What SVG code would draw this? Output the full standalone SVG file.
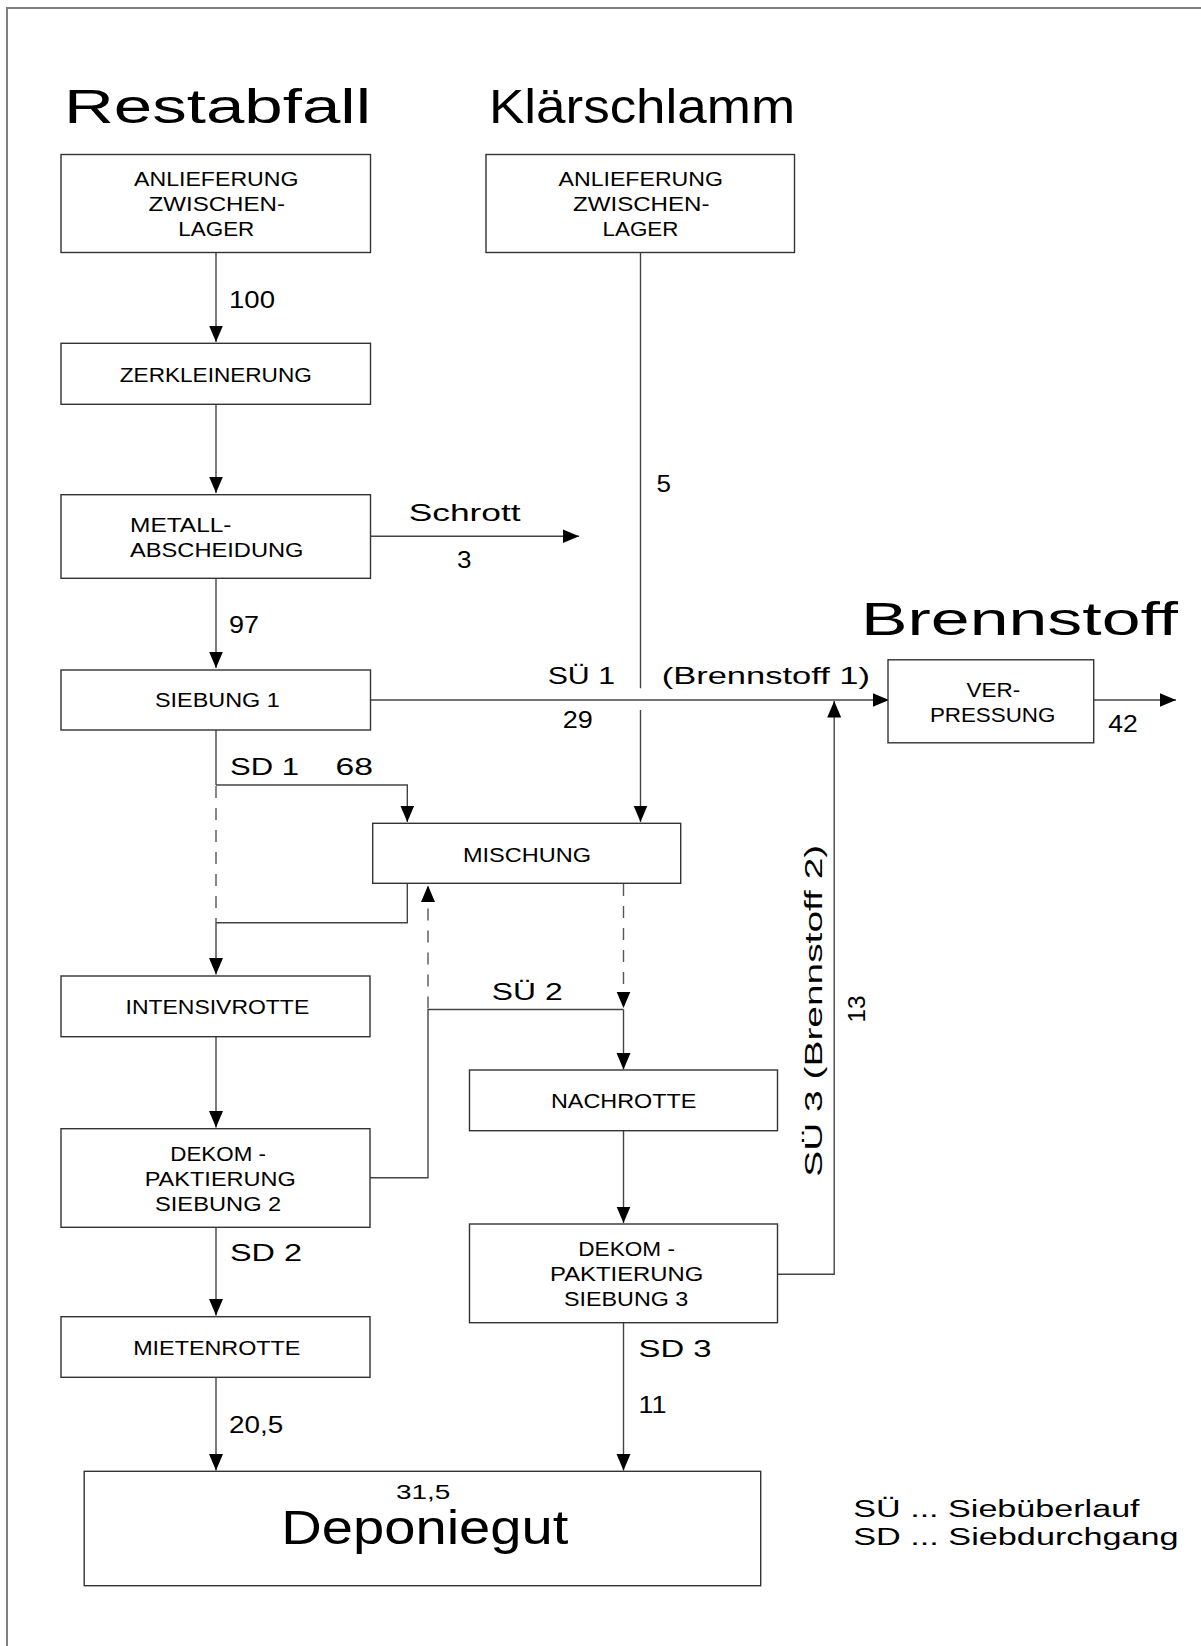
<svg xmlns="http://www.w3.org/2000/svg" width="1201" height="1646" viewBox="0 0 1201 1646">
<style>
  .box{fill:#fff;stroke:#333;stroke-width:1.4}
  .ln{fill:none;stroke:#444;stroke-width:1.4}
  .dash{fill:none;stroke:#555;stroke-width:1.4;stroke-dasharray:12 10}
  .arr{marker-end:url(#ah)}
  text{font-family:"Liberation Sans",Arial,sans-serif;fill:#000}
  .h{font-size:48px}
  .b{font-size:19.5px}
  .d{font-size:21px}
  .f{font-size:24px}
  .lg{font-size:23px}
</style>
<defs>
  <marker id="ah" markerUnits="userSpaceOnUse" markerWidth="18" markerHeight="16" refX="16.5" refY="7" orient="auto">
    <path d="M0,0 L16.5,7 L0,14 Z" fill="#000"/>
  </marker>
</defs>
<rect x="0" y="0" width="1201" height="1646" fill="#fff"/>
<path d="M7,1646 L7,8 L1201,8" fill="none" stroke="#808080" stroke-width="2"/>

<g id="headings">
  <text class="h" x="64" y="123" textLength="307" lengthAdjust="spacingAndGlyphs">Restabfall</text>
  <text class="h" x="489" y="123" textLength="306" lengthAdjust="spacingAndGlyphs">Klärschlamm</text>
  <text x="861" y="635" textLength="317" lengthAdjust="spacingAndGlyphs" style="font-size:46px">Brennstoff</text>
</g>

<g id="connectors">
  <line class="ln arr" x1="216" y1="252.5" x2="216" y2="342"/>
  <line class="ln arr" x1="216" y1="404.5" x2="216" y2="493"/>
  <line class="ln arr" x1="370.5" y1="536.3" x2="579" y2="536.3"/>
  <line class="ln arr" x1="216" y1="578.5" x2="216" y2="668"/>
  <line class="ln arr" x1="370.5" y1="700" x2="889" y2="700"/>
  <line class="ln" x1="640.5" y1="252.5" x2="640.5" y2="688.3"/>
  <line class="ln arr" x1="640.5" y1="710" x2="640.5" y2="822"/>
  <polyline class="ln arr" points="777.5,1274.3 834.2,1274.3 834.2,701"/>
  <line class="ln arr" x1="1093.7" y1="700" x2="1176" y2="700"/>
  <line class="ln" x1="216" y1="730" x2="216" y2="785"/>
  <polyline class="ln arr" points="216,785 407.3,785 407.3,822"/>
  <line class="dash" x1="216" y1="786" x2="216" y2="922"/>
  <polyline class="ln arr" points="407.3,883.3 407.3,922.7 216,922.7 216,974.5"/>
  <line class="dash arr" x1="623.5" y1="884" x2="623.5" y2="1008"/>
  <polyline class="ln" points="370,1177.7 428,1177.7 428,1009.5 623.5,1009.5"/>
  <line class="dash arr" x1="428" y1="1008.5" x2="428" y2="885.5"/>
  <line class="ln arr" x1="623.5" y1="1009.5" x2="623.5" y2="1069.5"/>
  <line class="ln arr" x1="216" y1="1036.7" x2="216" y2="1127.5"/>
  <line class="ln arr" x1="623.5" y1="1130.7" x2="623.5" y2="1223"/>
  <line class="ln arr" x1="216" y1="1227.3" x2="216" y2="1315.5"/>
  <line class="ln arr" x1="623.5" y1="1322.7" x2="623.5" y2="1470.5"/>
  <line class="ln arr" x1="216" y1="1377.3" x2="216" y2="1470.5"/>
</g>

<g id="connector-labels">
  <text class="f" x="229" y="308" textLength="46" lengthAdjust="spacingAndGlyphs">100</text>
  <text class="f" x="408.7" y="521" textLength="112" lengthAdjust="spacingAndGlyphs">Schrott</text>
  <text class="f" x="457" y="568.3" textLength="14.5" lengthAdjust="spacingAndGlyphs">3</text>
  <text class="f" x="656.6" y="491.7" textLength="14.5" lengthAdjust="spacingAndGlyphs">5</text>
  <text class="f" x="229" y="632.7" textLength="30" lengthAdjust="spacingAndGlyphs">97</text>
  <text class="f" x="547.7" y="684" textLength="67.3" lengthAdjust="spacingAndGlyphs">SÜ 1</text>
  <text class="f" x="661.7" y="684" textLength="208.3" lengthAdjust="spacingAndGlyphs">(Brennstoff 1)</text>
  <text class="f" x="562.7" y="728.3" textLength="30" lengthAdjust="spacingAndGlyphs">29</text>
  <text class="f" x="1108.2" y="731.7" textLength="29.5" lengthAdjust="spacingAndGlyphs">42</text>
  <text class="f" x="230" y="775" textLength="69" lengthAdjust="spacingAndGlyphs">SD 1</text>
  <text class="f" x="335.5" y="775" textLength="37.5" lengthAdjust="spacingAndGlyphs">68</text>
  <text class="f" x="491.8" y="1000" textLength="70.8" lengthAdjust="spacingAndGlyphs">SÜ 2</text>
  <text class="f" x="230" y="1260.5" textLength="72" lengthAdjust="spacingAndGlyphs">SD 2</text>
  <text class="f" x="638.5" y="1356.7" textLength="73" lengthAdjust="spacingAndGlyphs">SD 3</text>
  <text class="f" x="638.5" y="1412.7" textLength="28" lengthAdjust="spacingAndGlyphs">11</text>
  <text class="f" x="229" y="1433.3" textLength="54.2" lengthAdjust="spacingAndGlyphs">20,5</text>
  <text x="822" y="1176.7" transform="rotate(-90 822 1176.7)" textLength="332" lengthAdjust="spacingAndGlyphs" style="font-size:23px">SÜ 3  (Brennstoff 2)</text>
  <text class="f" x="864.5" y="1022.5" transform="rotate(-90 864.5 1022.5)" textLength="27" lengthAdjust="spacingAndGlyphs">13</text>
</g>

<g id="n-anlieferung-rest">
  <rect class="box" x="61" y="154.5" width="309.5" height="98"/>
  <text class="b" x="134" y="185.7" textLength="164.5" lengthAdjust="spacingAndGlyphs">ANLIEFERUNG</text>
  <text class="b" x="148.5" y="210.7" textLength="136.5" lengthAdjust="spacingAndGlyphs">ZWISCHEN-</text>
  <text class="b" x="178.3" y="236" textLength="76" lengthAdjust="spacingAndGlyphs">LAGER</text>
</g>
<g id="n-anlieferung-klaer">
  <rect class="box" x="486" y="154.5" width="308.5" height="98"/>
  <text class="b" x="558.5" y="185.7" textLength="164.5" lengthAdjust="spacingAndGlyphs">ANLIEFERUNG</text>
  <text class="b" x="573" y="210.7" textLength="136.5" lengthAdjust="spacingAndGlyphs">ZWISCHEN-</text>
  <text class="b" x="602.5" y="236" textLength="76" lengthAdjust="spacingAndGlyphs">LAGER</text>
</g>
<g id="n-zerkleinerung">
  <rect class="box" x="61" y="343.3" width="309.5" height="61"/>
  <text class="b" x="119.8" y="381.7" textLength="192" lengthAdjust="spacingAndGlyphs">ZERKLEINERUNG</text>
</g>
<g id="n-metall">
  <rect class="box" x="61" y="494.7" width="309.5" height="83.6"/>
  <text class="b" x="130" y="531.7" textLength="101.5" lengthAdjust="spacingAndGlyphs">METALL-</text>
  <text class="b" x="130" y="556.7" textLength="173.5" lengthAdjust="spacingAndGlyphs">ABSCHEIDUNG</text>
</g>
<g id="n-siebung1">
  <rect class="box" x="61" y="670" width="309.5" height="60"/>
  <text class="b" x="155" y="707.3" textLength="124.8" lengthAdjust="spacingAndGlyphs">SIEBUNG 1</text>
</g>
<g id="n-verpressung">
  <rect class="box" x="888" y="659.8" width="205.7" height="83"/>
  <text class="b" x="966.6" y="697.3" textLength="53.6" lengthAdjust="spacingAndGlyphs">VER-</text>
  <text class="b" x="929.9" y="721.7" textLength="125.5" lengthAdjust="spacingAndGlyphs">PRESSUNG</text>
</g>
<g id="n-mischung">
  <rect class="box" x="372.7" y="823.3" width="308" height="60"/>
  <text class="b" x="463" y="861.7" textLength="128" lengthAdjust="spacingAndGlyphs">MISCHUNG</text>
</g>
<g id="n-intensivrotte">
  <rect class="box" x="61" y="976" width="309" height="60.7"/>
  <text class="b" x="125.5" y="1014" textLength="183.7" lengthAdjust="spacingAndGlyphs">INTENSIVROTTE</text>
</g>
<g id="n-nachrotte">
  <rect class="box" x="469.5" y="1070" width="308" height="60.7"/>
  <text class="b" x="551" y="1108.3" textLength="145.4" lengthAdjust="spacingAndGlyphs">NACHROTTE</text>
</g>
<g id="n-dekom2">
  <rect class="box" x="61" y="1128.7" width="309" height="98.6"/>
  <text class="d" x="170.3" y="1160.7" textLength="95.7" lengthAdjust="spacingAndGlyphs">DEKOM -</text>
  <text class="d" x="144.7" y="1185.7" textLength="151.1" lengthAdjust="spacingAndGlyphs">PAKTIERUNG</text>
  <text class="d" x="155" y="1210.7" textLength="126.3" lengthAdjust="spacingAndGlyphs">SIEBUNG 2</text>
</g>
<g id="n-dekom3">
  <rect class="box" x="469.5" y="1224" width="308" height="98.7"/>
  <text class="d" x="578.3" y="1255.7" textLength="96.7" lengthAdjust="spacingAndGlyphs">DEKOM -</text>
  <text class="d" x="550" y="1280.7" textLength="153.3" lengthAdjust="spacingAndGlyphs">PAKTIERUNG</text>
  <text class="d" x="564" y="1305.7" textLength="124.3" lengthAdjust="spacingAndGlyphs">SIEBUNG 3</text>
</g>
<g id="n-mietenrotte">
  <rect class="box" x="61" y="1316.7" width="309" height="60.6"/>
  <text class="b" x="133.2" y="1355" textLength="167.2" lengthAdjust="spacingAndGlyphs">MIETENROTTE</text>
</g>
<g id="n-deponiegut">
  <rect class="box" x="84.2" y="1471.3" width="676.5" height="114.4"/>
  <text style="font-size:20.5px" x="396" y="1499.3" textLength="54.4" lengthAdjust="spacingAndGlyphs">31,5</text>
  <text class="h" x="281.3" y="1543.5" textLength="287" lengthAdjust="spacingAndGlyphs">Deponiegut</text>
</g>

<g id="legend">
  <text class="lg" x="853.3" y="1516.7" textLength="286.3" lengthAdjust="spacingAndGlyphs">SÜ ... Siebüberlauf</text>
  <text class="lg" x="853.3" y="1545" textLength="325.3" lengthAdjust="spacingAndGlyphs">SD ... Siebdurchgang</text>
</g>
</svg>
